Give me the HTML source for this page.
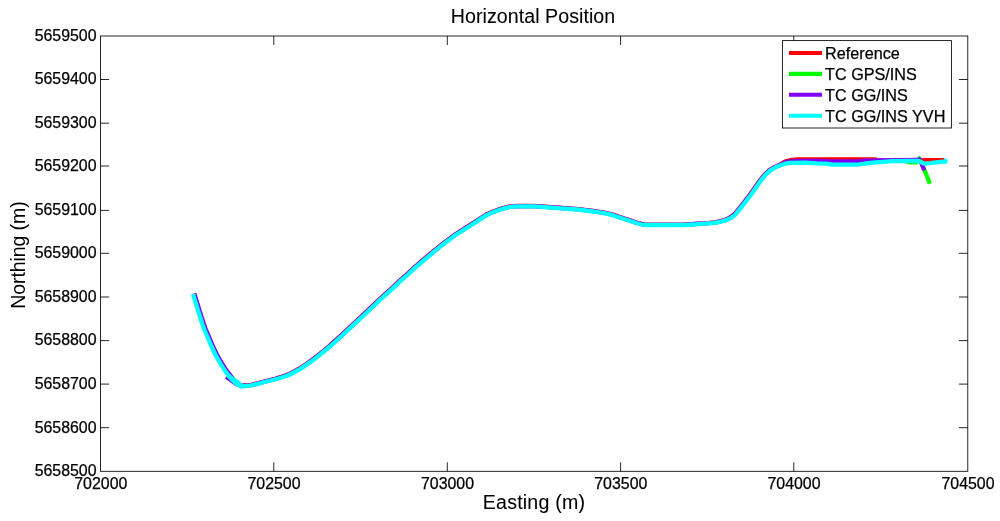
<!DOCTYPE html>
<html><head><meta charset="utf-8"><title>Horizontal Position</title>
<style>
html,body{margin:0;padding:0;background:#fff;}
body{width:1000px;height:521px;overflow:hidden;}
svg{display:block;}
text{font-family:"Liberation Sans",Arial,sans-serif;fill:#000;stroke:#000;stroke-width:0.25px;}
.tk{font-size:15.9px;}
.lg{font-size:16.2px;}
.lb{font-size:19.6px;stroke-width:0.08px;}
.ax{stroke:#000;stroke-width:0.85;fill:none;}
.d{fill:none;stroke-width:4.3;stroke-linejoin:round;stroke-linecap:butt;}
</style></head><body>
<svg width="1000" height="521" viewBox="0 0 1000 521">
<rect x="0" y="0" width="1000" height="521" fill="#fff"/>
<path class="d" stroke="#ff0000" d="M193.9,293.7 L199.4,311.7 L203.6,324.7 L205.3,329.7 L207.7,335.1 L212.1,345.6 L216.6,355.1 L220.9,362.6 L226.0,370.6 L232.2,378.6 L237.0,383.1 L241.1,385.4 L250.2,385.2 L258.3,383.1 L266.4,381.0 L274.4,379.0 L282.4,376.6 L289.7,373.9 L299.6,368.5 L309.6,361.8 L319.5,354.1 L329.5,345.9 L339.4,336.9 L353.2,324.0 L367.0,311.1 L380.8,298.0 L394.6,285.6 L399.5,280.8 L408.6,272.9 L413.3,268.3 L427.1,256.5 L440.9,245.1 L454.8,234.7 L468.7,225.9 L477.7,220.0 L485.8,214.8 L494.0,211.2 L502.1,208.4 L510.2,206.4 L518.4,206.0 L534.5,206.0 L545.0,206.7 L561.1,207.9 L577.3,209.1 L593.5,211.0 L605.6,212.9 L613.7,214.9 L620.2,217.2 L628.3,219.7 L636.3,222.5 L644.2,224.6 L660.3,224.6 L684.5,224.6 L695.0,223.9 L705.0,223.3 L714.9,222.4 L724.8,220.2 L729.6,217.8 L734.4,214.3 L739.3,208.3 L744.3,202.0 L749.3,195.5 L754.3,188.5 L759.3,181.3 L764.4,174.8 L769.5,170.0 L774.7,167.0 L779.8,164.9 L785.0,161.6 L790.0,160.2 L797.0,159.5 L875.5,159.4 L878.0,160.6 L918.0,160.6 L922.0,160.1 L944.4,160.1"/>
<path class="d" stroke="#00ff00" d="M904.0,161.0 L907.0,161.4 L910.0,162.4 L916.5,162.4 L918.0,160.5 L919.3,158.3 L921.5,163.0 L924.9,171.0 L929.9,183.8"/>
<path class="d" stroke="#7f00ff" d="M194.3,293.6 L199.8,311.6 L204.0,324.6 L205.8,329.5 L208.2,335.0 L212.6,345.4 L217.0,354.9 L221.3,362.4 L226.4,370.3 L232.6,378.3 L236.8,383.4 L241.1,385.8 L250.3,385.4 L258.3,383.3 L266.4,381.2 L274.4,379.2 L282.5,376.8 L289.8,374.1 L299.8,368.7 L309.7,362.0 L319.7,354.3 L329.7,346.1 L339.6,337.1 L353.4,324.2 L367.2,311.3 L381.0,298.2 L394.8,285.8 L399.6,281.0 L408.7,273.1 L413.5,268.5 L427.3,256.7 L441.1,245.3 L454.9,234.9 L468.8,226.1 L477.8,220.2 L485.9,215.0 L494.1,211.4 L502.2,208.5 L510.3,206.6 L518.4,206.1 L534.5,206.1 L545.0,206.8 L561.1,208.0 L577.3,209.2 L593.4,211.2 L605.6,213.1 L613.6,215.0 L620.1,217.4 L628.2,219.9 L636.2,222.7 L644.2,224.7 L660.3,224.8 L684.5,224.7 L695.0,224.0 L705.0,223.4 L715.0,222.6 L724.9,220.3 L729.8,218.0 L734.6,214.5 L739.6,208.5 L744.5,202.1 L749.5,195.7 L754.5,188.7 L759.5,181.5 L764.6,175.0 L769.7,170.2 L774.8,167.2 L779.8,165.1 L785.0,162.5 L790.0,161.3 L800.0,160.9 L817.0,161.0 L828.0,161.4 L860.0,161.4 L864.0,160.7 L875.5,160.6 L878.0,160.3 L900.0,160.1 L916.0,160.0 L919.6,159.4 L921.2,162.5 L924.2,170.3"/>
<path class="d" stroke="#7f00ff" d="M226.2,376.7 L236.3,383.9 L241.5,386.0"/>
<path class="d" stroke="#00ffff" d="M227.4,375.0 L237.5,382.2 L241.5,385.5"/>
<path class="d" stroke="#00ffff" d="M193.0,294.0 L198.5,312.0 L202.7,325.0 L204.5,330.0 L206.9,335.5 L211.3,346.0 L215.8,355.5 L220.1,363.1 L225.3,371.1 L231.5,379.2 L236.5,383.8 L241.0,386.3 L250.3,385.7 L258.4,383.6 L266.5,381.5 L274.5,379.5 L282.6,377.2 L290.0,374.5 L300.0,369.1 L310.0,362.4 L320.0,354.7 L330.0,346.5 L340.0,337.5 L353.8,324.6 L367.6,311.7 L381.4,298.6 L395.2,286.2 L400.0,281.4 L409.1,273.5 L413.8,268.9 L427.6,257.1 L441.4,245.7 L455.2,235.3 L469.1,226.5 L478.1,220.6 L486.1,215.4 L494.2,211.8 L502.3,208.9 L510.3,206.9 L518.4,206.4 L534.5,206.4 L545.0,207.1 L561.1,208.3 L577.3,209.5 L593.4,211.5 L605.5,213.4 L613.5,215.4 L620.0,217.8 L628.1,220.3 L636.1,223.0 L644.2,225.0 L660.3,225.0 L684.5,225.0 L695.0,224.3 L705.0,223.7 L715.0,222.9 L725.0,220.7 L730.0,218.4 L735.0,214.9 L740.0,208.9 L745.0,202.5 L750.0,196.0 L755.0,189.0 L760.0,181.8 L765.0,175.4 L770.0,170.6 L775.0,167.6 L780.0,165.5 L785.0,163.7 L790.0,162.8 L805.0,162.6 L817.0,163.4 L826.0,163.6 L832.0,164.5 L858.0,164.6 L865.0,163.5 L873.0,162.6 L883.0,161.8 L892.0,161.1 L910.0,160.9 L919.0,161.0 L924.0,163.7 L930.0,163.2 L938.0,162.2 L945.6,161.4"/>
<path fill="#00ffff" d="M944.6,158.2 L946,158.3 L948.1,161.2 L946.2,163.9 L944.6,163.8 Z"/>
<rect class="ax" x="100.55" y="36.0" width="867.25" height="435.30"/>
<line class="ax" x1="273.8" y1="471.3" x2="273.8" y2="462.3"/><line class="ax" x1="273.8" y1="36.0" x2="273.8" y2="45.0"/>
<line class="ax" x1="447.3" y1="471.3" x2="447.3" y2="462.3"/><line class="ax" x1="447.3" y1="36.0" x2="447.3" y2="45.0"/>
<line class="ax" x1="620.6" y1="471.3" x2="620.6" y2="462.3"/><line class="ax" x1="620.6" y1="36.0" x2="620.6" y2="45.0"/>
<line class="ax" x1="793.8" y1="471.3" x2="793.8" y2="462.3"/><line class="ax" x1="793.8" y1="36.0" x2="793.8" y2="45.0"/>
<line class="ax" x1="100.55" y1="79.5" x2="109.14999999999999" y2="79.5"/><line class="ax" x1="967.8" y1="79.5" x2="958.9" y2="79.5"/>
<line class="ax" x1="100.55" y1="123.2" x2="109.14999999999999" y2="123.2"/><line class="ax" x1="967.8" y1="123.2" x2="958.9" y2="123.2"/>
<line class="ax" x1="100.55" y1="166.0" x2="109.14999999999999" y2="166.0"/><line class="ax" x1="967.8" y1="166.0" x2="958.9" y2="166.0"/>
<line class="ax" x1="100.55" y1="210.4" x2="109.14999999999999" y2="210.4"/><line class="ax" x1="967.8" y1="210.4" x2="958.9" y2="210.4"/>
<line class="ax" x1="100.55" y1="253.3" x2="109.14999999999999" y2="253.3"/><line class="ax" x1="967.8" y1="253.3" x2="958.9" y2="253.3"/>
<line class="ax" x1="100.55" y1="297.0" x2="109.14999999999999" y2="297.0"/><line class="ax" x1="967.8" y1="297.0" x2="958.9" y2="297.0"/>
<line class="ax" x1="100.55" y1="340.6" x2="109.14999999999999" y2="340.6"/><line class="ax" x1="967.8" y1="340.6" x2="958.9" y2="340.6"/>
<line class="ax" x1="100.55" y1="384.1" x2="109.14999999999999" y2="384.1"/><line class="ax" x1="967.8" y1="384.1" x2="958.9" y2="384.1"/>
<line class="ax" x1="100.55" y1="427.7" x2="109.14999999999999" y2="427.7"/><line class="ax" x1="967.8" y1="427.7" x2="958.9" y2="427.7"/>
<text class="tk" x="100.8" y="489" text-anchor="middle">702000</text>
<text class="tk" x="274.0" y="489" text-anchor="middle">702500</text>
<text class="tk" x="447.5" y="489" text-anchor="middle">703000</text>
<text class="tk" x="620.8" y="489" text-anchor="middle">703500</text>
<text class="tk" x="794.0" y="489" text-anchor="middle">704000</text>
<text class="tk" x="968.0" y="489" text-anchor="middle">704500</text>
<text class="tk" x="96.5" y="40.8" text-anchor="end">5659500</text>
<text class="tk" x="96.5" y="84.3" text-anchor="end">5659400</text>
<text class="tk" x="96.5" y="128.0" text-anchor="end">5659300</text>
<text class="tk" x="96.5" y="170.8" text-anchor="end">5659200</text>
<text class="tk" x="96.5" y="215.2" text-anchor="end">5659100</text>
<text class="tk" x="96.5" y="258.1" text-anchor="end">5659000</text>
<text class="tk" x="96.5" y="301.8" text-anchor="end">5658900</text>
<text class="tk" x="96.5" y="345.4" text-anchor="end">5658800</text>
<text class="tk" x="96.5" y="388.9" text-anchor="end">5658700</text>
<text class="tk" x="96.5" y="432.5" text-anchor="end">5658600</text>
<text class="tk" x="96.5" y="476.1" text-anchor="end">5658500</text>
<text class="lb" x="533" y="22.8" text-anchor="middle" letter-spacing="0.06">Horizontal Position</text>
<text class="lb" x="534" y="509" text-anchor="middle" letter-spacing="0.2">Easting (m)</text>
<text class="lb" style="stroke-width:0" transform="translate(24.8,255.1) rotate(-90)" text-anchor="middle" letter-spacing="-0.12">Northing (m)</text>
<rect x="782.4" y="40.6" width="169" height="87.4" fill="#fff" stroke="#000" stroke-width="0.85"/>
<line x1="789" y1="53.0" x2="822" y2="53.0" stroke="#ff0000" stroke-width="4.1"/><text class="lg" x="825.1" y="58.6">Reference</text>
<line x1="789" y1="73.9" x2="822" y2="73.9" stroke="#00ff00" stroke-width="4.1"/><text class="lg" x="825.1" y="79.9">TC GPS/INS</text>
<line x1="789" y1="94.8" x2="822" y2="94.8" stroke="#7f00ff" stroke-width="4.1"/><text class="lg" x="825.1" y="101.0">TC GG/INS</text>
<line x1="789" y1="115.7" x2="822" y2="115.7" stroke="#00ffff" stroke-width="4.1"/><text class="lg" x="825.1" y="122.1">TC GG/INS YVH</text>
</svg></body></html>
